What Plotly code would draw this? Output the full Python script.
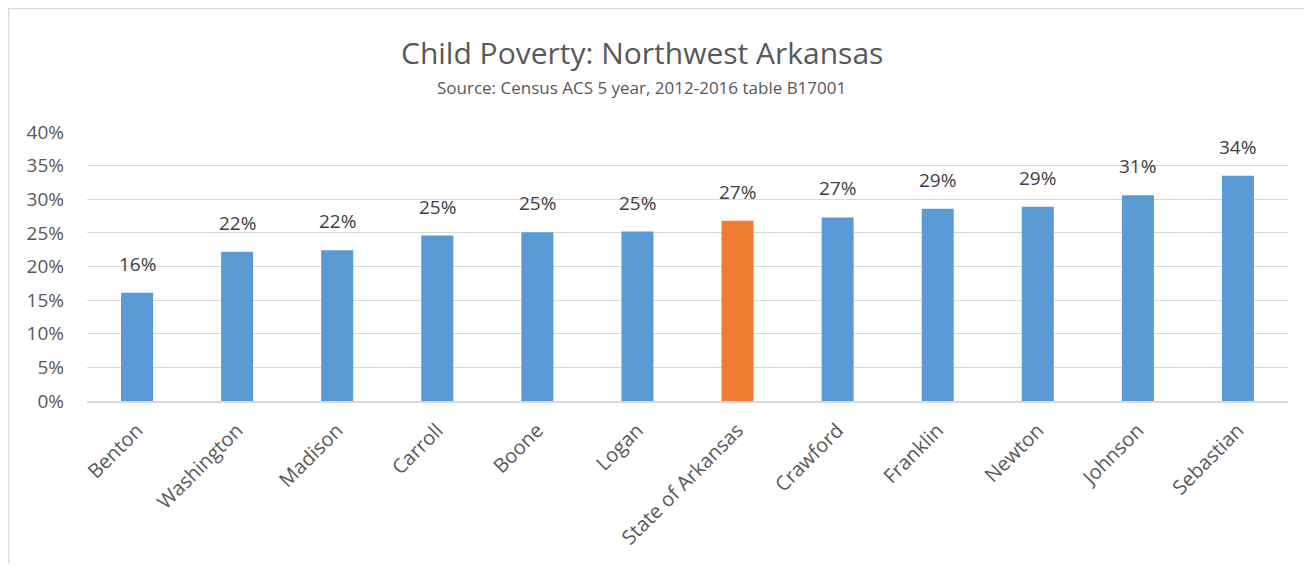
import plotly.graph_objects as go

counties = [
    "Benton", "Washington", "Madison", "Carroll", "Boone", "Logan",
    "State of Arkansas", "Crawford", "Franklin", "Newton", "Johnson", "Sebastian",
]
poverty_rate = [0.161, 0.222, 0.224, 0.246, 0.251, 0.252, 0.268, 0.273, 0.286, 0.289, 0.306, 0.335]

blue = "#5B9BD5"
orange = "#ED7D31"
bar_colors = [orange if c == "State of Arkansas" else blue for c in counties]

font_family = "Open Sans, Liberation Sans, sans-serif"

fig = go.Figure()
fig.add_trace(
    go.Bar(
        x=counties,
        y=poverty_rate,
        marker=dict(color=bar_colors, line=dict(width=0)),
        hoverinfo="x+y",
    )
)

# data labels above the bars
for c, v in zip(counties, poverty_rate):
    fig.add_annotation(
        x=c, y=v, text=f"{v:.0%}", showarrow=False,
        yanchor="bottom", yshift=14,
        font=dict(family=font_family, size=19, color="#404040"),
    )

# title is centred on the chart box, not the plot area
fig.add_annotation(
    text="Child Poverty: Northwest Arkansas",
    xref="paper", yref="paper", x=0.462, y=1.297, xanchor="center", yanchor="middle",
    showarrow=False, font=dict(family=font_family, size=30, color="#595959"),
)
fig.add_annotation(
    text="Source: Census ACS 5 year, 2012-2016 table B17001",
    xref="paper", yref="paper", x=0.462, y=1.167, xanchor="center", yanchor="middle",
    showarrow=False, font=dict(family=font_family, size=17, color="#595959"),
)

# outer chart border
fig.add_shape(
    type="rect", xref="paper", yref="paper",
    x0=-0.0654, x1=1.1, y0=-1.0, y1=1.459,
    line=dict(color="#D9D9D9", width=1.5), fillcolor="rgba(0,0,0,0)", layer="below",
)

fig.update_layout(
    width=1296,
    height=555,
    margin=dict(l=79, r=16, t=124, b=162),
    paper_bgcolor="white",
    plot_bgcolor="white",
    bargap=0.68,
    showlegend=False,
    font=dict(family=font_family, color="#595959"),
)
fig.update_yaxes(
    range=[0, 0.4],
    dtick=0.05,
    tickformat=".0%",
    showgrid=True,
    gridcolor="#D9D9D9",
    gridwidth=1.3,
    zeroline=False,
    showline=False,
    ticks="",
    ticklabelstandoff=22,
    tickfont=dict(family=font_family, size=19, color="#595959"),
)
fig.update_xaxes(
    showline=True,
    linecolor="#D9D9D9",
    linewidth=1.5,
    ticks="",
    tickangle=-45,
    ticklabelstandoff=8,
    tickfont=dict(family=font_family, size=20, color="#595959"),
)

fig.write_html("out.html")
